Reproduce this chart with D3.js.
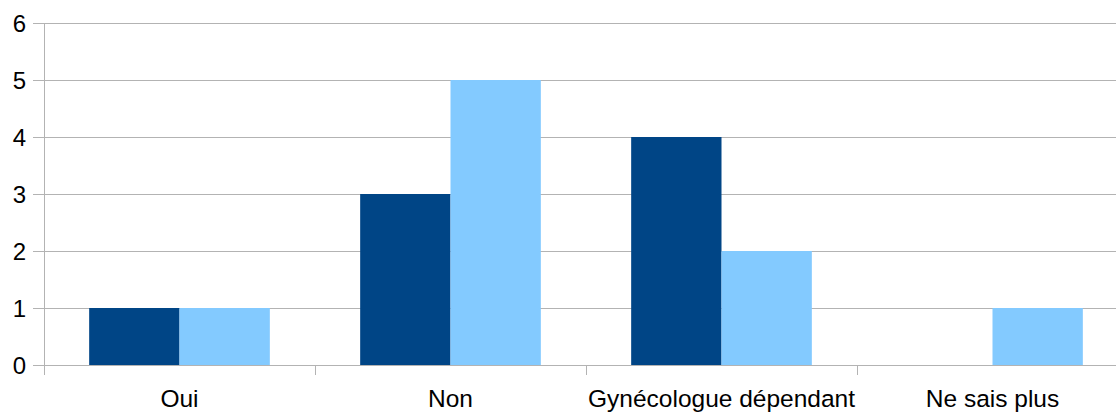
<!DOCTYPE html>
<html><head><meta charset="utf-8">
<script src="https://cdn.jsdelivr.net/npm/d3@7"></script>
<style>body{margin:0;background:#fff}svg{display:block}text{font-family:"Liberation Sans",Arial,sans-serif;fill:#000}</style>
</head><body>
<svg id="c" width="1116" height="414"></svg>
<script>
const categories = ["Oui", "Non", "Gynécologue dépendant", "Ne sais plus"];
const series1 = [1, 3, 4, 0];
const series2 = [1, 5, 2, 1];
const yTicks = [0, 1, 2, 3, 4, 5, 6];
const colors = ["#004586", "#83caff"];

const svg = d3.select("#c");
const mLeft = 44, mRight = 1128, mTop = 23, mBottom = 365;
const x = d3.scaleBand().domain(categories).range([mLeft, mRight]).paddingInner(0).paddingOuter(0);
const y = d3.scaleLinear().domain([0, 6]).range([mBottom, mTop]);
const inner = d3.scaleBand().domain([0, 1]).range([0, x.bandwidth()]).paddingOuter(0.5).paddingInner(0);

// gridlines
svg.append("g").selectAll("line").data(yTicks).join("line")
  .attr("x1", mLeft - 11).attr("x2", mRight)
  .attr("y1", d => Math.round(y(d)) + 0.5).attr("y2", d => Math.round(y(d)) + 0.5)
  .attr("stroke", "#b3b3b3").attr("stroke-width", 1);

// bars
const data = categories.map((c, i) => ({c, v: [series1[i], series2[i]]}));
const g = svg.append("g");
data.forEach(d => {
  d.v.forEach((v, k) => {
    if (v <= 0) return;
    g.append("rect")
      .attr("x", x(d.c) + inner(k)).attr("width", inner.bandwidth())
      .attr("y", y(v)).attr("height", y(0) - y(v))
      .attr("fill", colors[k]);
  });
});

// y axis line
svg.append("line").attr("x1", mLeft + 0.5).attr("x2", mLeft + 0.5)
  .attr("y1", mTop).attr("y2", mBottom + 10).attr("stroke", "#b3b3b3");
// x ticks
const bounds = categories.map(c => x(c)).concat([mRight]);
svg.append("g").selectAll("line").data(bounds.slice(1)).join("line")
  .attr("x1", d => Math.round(d) + 0.5).attr("x2", d => Math.round(d) + 0.5)
  .attr("y1", mBottom).attr("y2", mBottom + 10).attr("stroke", "#b3b3b3");

// y labels
svg.append("g").selectAll("text").data(yTicks).join("text")
  .attr("x", 26).attr("y", d => y(d)).attr("dy", "0.36em")
  .attr("text-anchor", "end").attr("font-size", 24).text(d => d);

// x labels
svg.append("g").selectAll("text").data(categories).join("text")
  .attr("x", d => x(d) + x.bandwidth() / 2).attr("y", 407)
  .attr("text-anchor", "middle").attr("font-size", 24.5).text(d => d);
</script>
</body></html>
